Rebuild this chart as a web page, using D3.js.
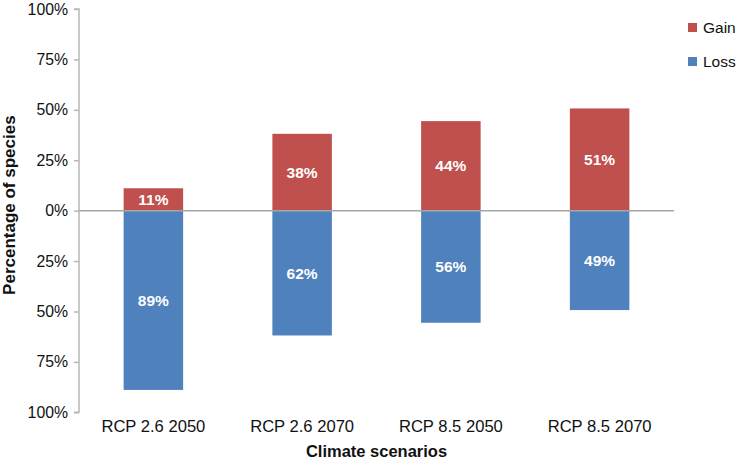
<!DOCTYPE html>
<html>
<head>
<meta charset="utf-8">
<script src="https://cdn.jsdelivr.net/npm/d3@7"></script>
<style>
html,body{margin:0;padding:0;background:#fff;}
text{font-family:"Liberation Sans",Arial,Helvetica,sans-serif;}
</style>
</head>
<body>
<svg id="chart" width="738" height="470"></svg>
<script>
const categories = ["RCP 2.6 2050", "RCP 2.6 2070", "RCP 8.5 2050", "RCP 8.5 2070"];
const gainValues = [11.1, 38.1, 44.4, 50.7];
const lossValues = [88.9, 61.9, 55.6, 49.3];
const gainLabels = ["11%", "38%", "44%", "51%"];
const lossLabels = ["89%", "62%", "56%", "49%"];
const yTickValues = [100, 75, 50, 25, 0, -25, -50, -75, -100];
const seriesNames = ["Gain", "Loss"];
const seriesColors = ["#C0504D", "#4F81BD"];

const svg = d3.select("#chart");
const mLeft = 79, mRight = 674, mTop = 9, mBottom = 412.3;

const x = d3.scaleBand().domain(categories).range([mLeft, mRight]).paddingInner(0.6).paddingOuter(0.3);
const y = d3.scaleLinear().domain([-100, 100]).range([mBottom, mTop]);

// y axis
const yAxis = d3.axisLeft(y).tickValues(yTickValues).tickSize(5).tickPadding(6)
  .tickFormat(d => Math.abs(d) + "%");
const gy = svg.append("g").attr("transform", `translate(${mLeft},0)`).call(yAxis);
gy.select(".domain").attr("stroke", "#b8b8b8").attr("stroke-width", 1.5).attr("d", `M-5,${mTop}H0V${mBottom}H-5`);
gy.selectAll(".tick line").attr("stroke", "#b8b8b8").attr("stroke-width", 1.5);
gy.selectAll(".tick text").attr("font-size", 15.8).attr("fill", "#111")
  .attr("font-family", "Liberation Sans, Arial, sans-serif");

// bars
const gGain = svg.append("g");
gGain.selectAll("rect").data(categories).join("rect")
  .attr("x", d => x(d)).attr("width", x.bandwidth())
  .attr("y", (d, i) => y(gainValues[i])).attr("height", (d, i) => y(0) - y(gainValues[i]))
  .attr("fill", seriesColors[0]);
const gLoss = svg.append("g");
gLoss.selectAll("rect").data(categories).join("rect")
  .attr("x", d => x(d)).attr("width", x.bandwidth())
  .attr("y", y(0)).attr("height", (d, i) => y(-lossValues[i]) - y(0))
  .attr("fill", seriesColors[1]);

// zero line
svg.append("line").attr("x1", mLeft).attr("x2", mRight).attr("y1", y(0)).attr("y2", y(0))
  .attr("stroke", "#a6a6a6").attr("stroke-width", 1.5);

// data labels
svg.append("g").selectAll("text").data(categories).join("text")
  .attr("x", d => x(d) + x.bandwidth() / 2)
  .attr("y", (d, i) => (y(gainValues[i]) + y(0)) / 2)
  .attr("dy", "0.36em").attr("text-anchor", "middle")
  .attr("font-size", 15.5).attr("font-weight", "bold").attr("fill", "#fff")
  .text((d, i) => gainLabels[i]);
svg.append("g").selectAll("text").data(categories).join("text")
  .attr("x", d => x(d) + x.bandwidth() / 2)
  .attr("y", (d, i) => (y(-lossValues[i]) + y(0)) / 2)
  .attr("dy", "0.36em").attr("text-anchor", "middle")
  .attr("font-size", 15.5).attr("font-weight", "bold").attr("fill", "#fff")
  .text((d, i) => lossLabels[i]);

// x axis labels
const xAxis = d3.axisBottom(x).tickSize(0).tickPadding(0);
const gx = svg.append("g").attr("transform", `translate(0,${mBottom})`).call(xAxis);
gx.select(".domain").remove();
gx.selectAll(".tick text").attr("font-size", 16.6).attr("fill", "#111")
  .attr("font-family", "Liberation Sans, Arial, sans-serif")
  .attr("dy", null).attr("y", 20);

// axis titles
svg.append("text").attr("x", (mLeft + mRight) / 2).attr("y", 457)
  .attr("text-anchor", "middle").attr("font-size", 16.5).attr("font-weight", "bold").attr("fill", "#111")
  .text("Climate scenarios");
svg.append("text").attr("transform", `translate(14.5,${y(0) - 5.5}) rotate(-90)`)
  .attr("text-anchor", "middle").attr("font-size", 17).attr("font-weight", "bold").attr("fill", "#111")
  .text("Percentage of species");

// legend
const legend = svg.append("g");
seriesNames.forEach((name, i) => {
  const cy = 27.5 + i * 34;
  legend.append("rect").attr("x", 688).attr("y", cy - 4.5).attr("width", 9).attr("height", 9)
    .attr("fill", seriesColors[i]);
  legend.append("text").attr("x", 703).attr("y", cy).attr("dy", "0.36em")
    .attr("font-size", 15.5).attr("fill", "#111").text(name);
});
</script>
</body>
</html>
